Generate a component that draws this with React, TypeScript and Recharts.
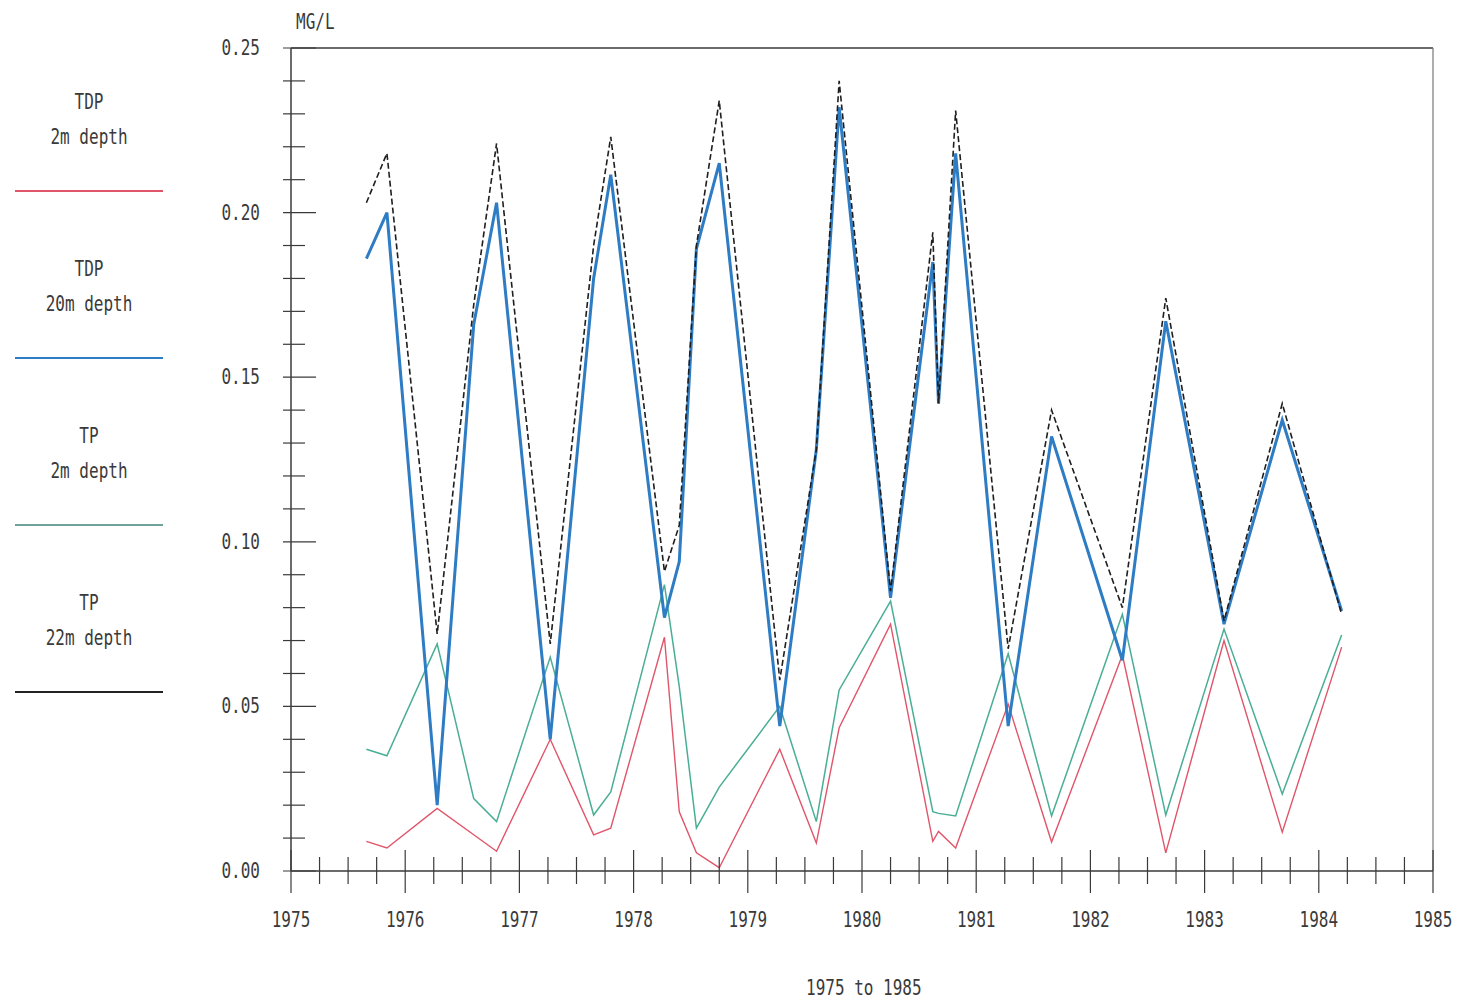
import React from 'react'
import { LineChart, Line, XAxis, YAxis, ReferenceLine } from 'recharts'

// Sampling dates (decimal years)
const sampleYears = [
  1975.66, 1975.84, 1976.28, 1976.6, 1976.8, 1977.27, 1977.65, 1977.8, 1978.27, 1978.4, 1978.55, 1978.75, 1979.28,
  1979.6, 1979.8, 1980.25, 1980.62, 1980.67, 1980.82, 1981.28, 1981.66, 1982.28, 1982.66, 1983.17, 1983.68, 1984.2,
]

// mg/L
const tdp2m = [
  0.009, 0.007, 0.019, 0.011, 0.006, 0.04, 0.011, 0.013, 0.071, 0.018, 0.0055, 0.001, 0.037,
  0.0085, 0.0435, 0.075, 0.009, 0.012, 0.007, 0.0507, 0.0088, 0.0656, 0.0055, 0.07, 0.0118, 0.068,
]
const tdp20m = [
  0.186, 0.2, 0.02, 0.166, 0.203, 0.04, 0.18, 0.2115, 0.077, 0.094, 0.189, 0.215, 0.044,
  0.128, 0.232, 0.083, 0.185, 0.142, 0.218, 0.044, 0.132, 0.064, 0.167, 0.075, 0.137, 0.079,
]
const tp2m = [
  0.037, 0.035, 0.069, 0.022, 0.015, 0.065, 0.017, 0.024, 0.087, 0.056, 0.013, 0.0255, 0.05,
  0.015, 0.055, 0.082, 0.018, 0.0175, 0.0167, 0.066, 0.0167, 0.078, 0.017, 0.0735, 0.0234, 0.0717,
]
const tp22m = [
  0.203, 0.218, 0.072, 0.172, 0.221, 0.069, 0.19, 0.223, 0.091, 0.105, 0.19, 0.234, 0.058,
  0.128, 0.24, 0.085, 0.194, 0.142, 0.231, 0.0675, 0.14, 0.08, 0.174, 0.076, 0.142, 0.078,
]

const yearTicks = [1975, 1976, 1977, 1978, 1979, 1980, 1981, 1982, 1983, 1984, 1985]
const quarterTicks = yearTicks.flatMap((y) => (y === 1985 ? [y] : [y, y + 0.25, y + 0.5, y + 0.75]))
const valueTicks = Array.from({ length: 26 }, (_, i) => i / 100)

const legendItems = [
  { line1: 'TDP', line2: '2m depth', color: '#e0556a' },
  { line1: 'TDP', line2: '20m depth', color: '#2e7cc4' },
  { line1: 'TP', line2: '2m depth', color: '#6fa39a' },
  { line1: 'TP', line2: '22m depth', color: '#222' },
]

const data = sampleYears.map((year, i) => ({
  year,
  tdp2m: tdp2m[i],
  tdp20m: tdp20m[i],
  tp2m: tp2m[i],
  tp22m: tp22m[i],
}))

const FONT = '"DejaVu Sans Mono", monospace'
const INK = '#3a3a3a'

const YTick = ({ x, y, payload }: any) => {
  const v = payload.value
  const major = Math.round(v * 100) % 5 === 0
  return (
    <g>
      <line x1={x - 8} x2={x + (major ? 25 : 14)} y1={y} y2={y} stroke={INK} strokeWidth={1.2} />
      {major && (
        <text
          transform={`translate(${x - 31},${y + 7}) scale(1,1.35)`}
          textAnchor="end"
          fontFamily={FONT}
          fontSize={16}
          fill={INK}
        >
          {v.toFixed(2)}
        </text>
      )}
    </g>
  )
}

const XTick = ({ x, y, payload }: any) => {
  const v = payload.value
  const major = Number.isInteger(v)
  return (
    <g>
      <line x1={x} x2={x} y1={y - (major ? 21 : 14)} y2={y + (major ? 22 : 13)} stroke={INK} strokeWidth={1.2} />
      {major && (
        <text
          transform={`translate(${x},${y + 56}) scale(1,1.35)`}
          textAnchor="middle"
          fontFamily={FONT}
          fontSize={16}
          fill={INK}
        >
          {v}
        </text>
      )}
    </g>
  )
}

const textStyle: React.CSSProperties = {
  fontFamily: FONT,
  fontSize: 16,
  color: INK,
  transform: 'scaleY(1.3)',
  lineHeight: '20px',
  whiteSpace: 'nowrap',
}

export default function App() {
  return (
    <div style={{ position: 'absolute', left: 0, top: 0, width: 1464, height: 1005, background: '#fff' }}>
      <LineChart
        width={1464}
        height={1005}
        data={data}
        margin={{ top: 48, right: 31, bottom: 104, left: 231 }}
      >
        <XAxis
          dataKey="year"
          type="number"
          domain={[1975, 1985]}
          ticks={quarterTicks}
          interval={0}
          tickSize={0}
          tickMargin={0}
          tick={<XTick />}
          axisLine={{ stroke: INK, strokeWidth: 1.5 }}
          height={30}
        />
        <YAxis
          type="number"
          domain={[0, 0.25]}
          ticks={valueTicks}
          interval={0}
          tickSize={0}
          tickMargin={0}
          tick={<YTick />}
          axisLine={{ stroke: INK, strokeWidth: 1.5 }}
          width={60}
        />
        <ReferenceLine y={0.25} stroke={INK} strokeWidth={1.5} />
        <ReferenceLine x={1985} stroke="#777" strokeWidth={1.2} />
        <Line type="linear" dataKey="tdp2m" stroke="#e0556a" strokeWidth={1.4} dot={false} isAnimationActive={false} />
        <Line type="linear" dataKey="tp2m" stroke="#4aae95" strokeWidth={1.5} dot={false} isAnimationActive={false} />
        <Line type="linear" dataKey="tdp20m" stroke="#2e7cc4" strokeWidth={3} dot={false} isAnimationActive={false} />
        <Line
          type="linear"
          dataKey="tp22m"
          stroke="#1e1e1e"
          strokeWidth={1.6}
          strokeDasharray="6 3"
          dot={false}
          isAnimationActive={false}
        />
      </LineChart>

      {/* unit label and axis title */}
      <div style={{ ...textStyle, position: 'absolute', left: 296, top: 12 }}>MG/L</div>
      <div style={{ ...textStyle, position: 'absolute', left: 806, top: 978 }}>1975 to 1985</div>

      {/* legend */}
      {legendItems.map((item, i) => (
        <div key={i} style={{ position: 'absolute', left: 15, top: 92 + i * 167, width: 148 }}>
          <div style={{ ...textStyle, textAlign: 'center' }}>{item.line1}</div>
          <div style={{ ...textStyle, textAlign: 'center', marginTop: 15 }}>{item.line2}</div>
          <div style={{ position: 'absolute', left: 0, top: 98, width: 148, height: 2, background: item.color }} />
        </div>
      ))}
    </div>
  )
}
